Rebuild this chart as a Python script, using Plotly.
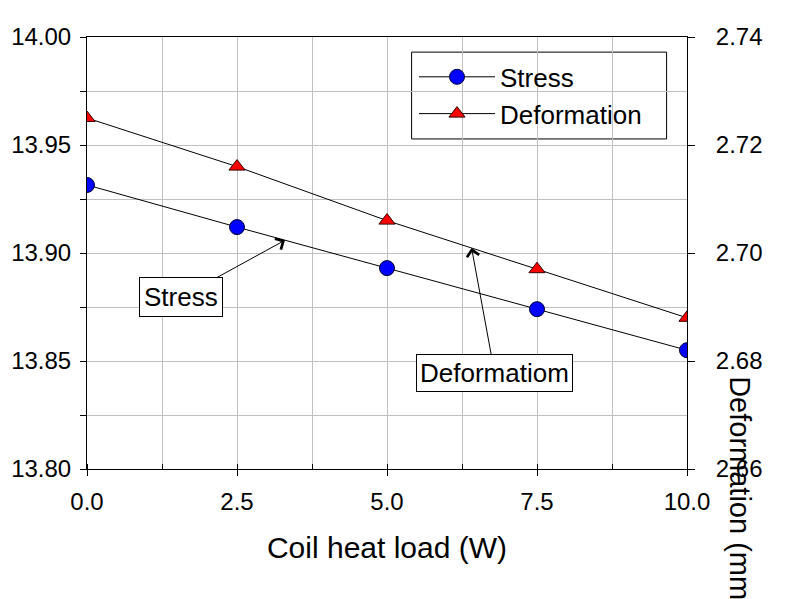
import numpy as np
import plotly.graph_objects as go

heat_load = [0.0, 2.5, 5.0, 7.5, 10.0]
stress = [13.9315, 13.912, 13.893, 13.874, 13.855]
deformation = [2.725, 2.716, 2.706, 2.697, 2.688]

FONT = "Liberation Sans, Arial, sans-serif"

fig = go.Figure()
fig.add_trace(go.Scatter(
    x=heat_load, y=stress, name="Stress", mode="lines+markers",
    line=dict(color="black", width=1),
    marker=dict(symbol="circle", size=15, color="#0000ff", line=dict(color="#000033", width=1)),
    yaxis="y"))
fig.add_trace(go.Scatter(
    x=heat_load, y=deformation, name="Deformation", mode="lines+markers",
    line=dict(color="black", width=1),
    marker=dict(symbol="triangle-up", size=14, color="#ff0000", line=dict(color="#330000", width=1)),
    yaxis="y2"))

# arrow tips on the lines, interpolated from the data
sx = 3.3
sy = float(np.interp(sx, heat_load, stress))
dx = 6.41
dy = float(np.interp(dx, heat_load, deformation))

fig.add_annotation(x=sx, y=sy, xref="x", yref="y", text="Stress",
                   showarrow=True, ax=-104, ay=57, arrowhead=4, arrowsize=2.4,
                   arrowwidth=1, arrowcolor="black",
                   bgcolor="white", bordercolor="black", borderwidth=1, borderpad=4,
                   font=dict(family=FONT, size=26, color="black"))
fig.add_annotation(x=dx, y=dy, xref="x", yref="y2", text="Deformatiom",
                   showarrow=True, ax=23, ay=125, arrowhead=4, arrowsize=2.4,
                   arrowwidth=1, arrowcolor="black",
                   bgcolor="white", bordercolor="black", borderwidth=1, borderpad=3,
                   font=dict(family=FONT, size=26, color="black"))
fig.add_annotation(x=1.088, y=0.22, xref="paper", yref="paper",
                   text="Deformation (mm)", textangle=90, showarrow=False,
                   xanchor="center", yanchor="top",
                   font=dict(family=FONT, size=29, color="black"))

# legend frame
fig.add_shape(type="rect", xref="paper", yref="paper",
              x0=0.541, x1=0.966, y0=0.764, y1=0.965,
              line=dict(color="black", width=1), fillcolor="white", layer="between")

grid = "#c0c0c0"
fig.update_layout(
    width=791, height=591,
    margin=dict(l=79, r=112, t=29, b=130, autoexpand=False),
    paper_bgcolor="white", plot_bgcolor="white",
    font=dict(family=FONT, size=24, color="black"),
    showlegend=True,
    legend=dict(x=0.545, y=0.962, xanchor="left", yanchor="top",
                bgcolor="rgba(0,0,0,0)", borderwidth=0,
                font=dict(family=FONT, size=26, color="black"),
                itemwidth=76, tracegroupgap=0),
    xaxis=dict(range=[0, 10], dtick=2.5, tick0=0, tickformat=".1f", automargin=False,
               showline=True, linecolor="black", linewidth=1, mirror=True,
               ticks="outside", ticklen=6, tickcolor="black",
               showgrid=True, gridcolor=grid, gridwidth=1, zeroline=False,
               minor=dict(dtick=1.25, showgrid=True, gridcolor=grid, ticks="inside",
                          ticklen=5, tickcolor="black"),
               ticklabelstandoff=5,
               title=dict(text="Coil heat load (W)", font=dict(family=FONT, size=30),
                          standoff=23)),
    yaxis=dict(range=[13.8, 14.0], dtick=0.05, tick0=13.8, tickformat=".2f", automargin=False,
               showline=True, linecolor="black", linewidth=1, mirror=True,
               ticks="outside", ticklen=6, tickcolor="black",
               showgrid=True, gridcolor=grid, gridwidth=1, zeroline=False,
               minor=dict(dtick=0.025, showgrid=True, gridcolor=grid, ticks="outside",
                          ticklen=6, tickcolor="black"),
               ticklabelstandoff=4),
    yaxis2=dict(range=[2.66, 2.74], dtick=0.02, tick0=2.66, tickformat=".2f", automargin=False,
                overlaying="y", side="right", anchor="x",
                showline=True, linecolor="black", linewidth=1,
                ticks="outside", ticklen=7, tickcolor="black",
                showgrid=False, zeroline=False, ticklabelstandoff=16),
)

fig.write_html("out.html")
